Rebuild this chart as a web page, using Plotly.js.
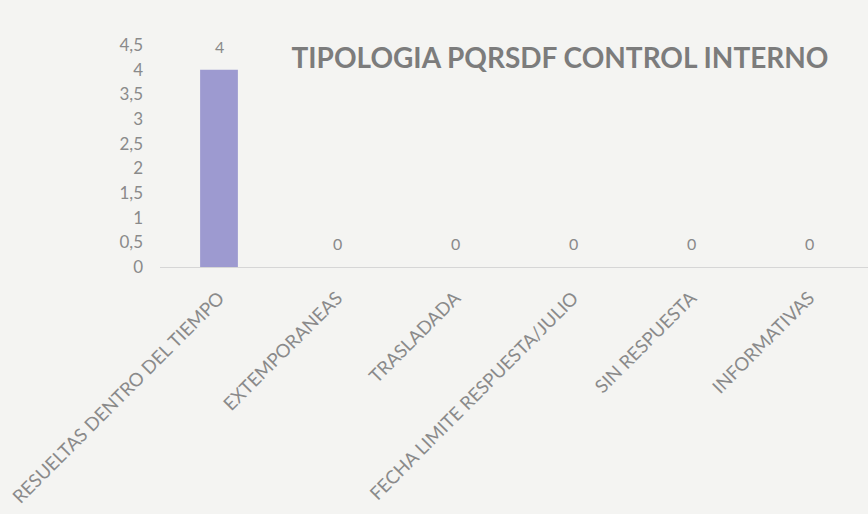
<!DOCTYPE html>
<html>
<head>
<meta charset="utf-8">
<script src="https://cdn.plot.ly/plotly-3.0.1.min.js"></script>
<style>html,body{margin:0;padding:0;background:#f4f4f2;}</style>
</head>
<body>
<div id="chart" style="width:868px;height:514px;"></div>
<script>
const categories = ["RESUELTAS DENTRO DEL TIEMPO", "EXTEMPORANEAS", "TRASLADADA", "FECHA LIMITE RESPUESTA/JULIO", "SIN RESPUESTA", "INFORMATIVAS"];
const values = [4, 0, 0, 0, 0, 0];
const yTicks = [0, 0.5, 1, 1.5, 2, 2.5, 3, 3.5, 4, 4.5];

const gray = '#8a8a8a';
const fontFam = 'Lato, "Open Sans", sans-serif';
const trace = {
  type: 'bar',
  x: categories,
  y: values,
  marker: {color: '#9d9ad0'},
  hoverinfo: 'none'
};
const labels = categories.map((c, i) => ({
  x: c, y: values[i], xref: 'x', yref: 'y',
  text: String(values[i]), showarrow: false,
  yanchor: 'bottom', yshift: 12,
  font: {family: fontFam, size: 16, color: gray}
}));
const layout = {
  width: 868, height: 514,
  paper_bgcolor: '#f4f4f2',
  plot_bgcolor: 'rgba(0,0,0,0)',
  separators: ',.',
  margin: {l: 160, r: 0, t: 45, b: 247},
  bargap: 0.68,
  showlegend: false,
  font: {family: fontFam, color: gray},
  annotations: labels,
  title: {
    text: '<b>TIPOLOGIA PQRSDF CONTROL INTERNO</b>',
    x: 560/868, xanchor: 'center',
    y: 1 - 58/514, yanchor: 'middle',
    font: {family: fontFam, size: 28, color: '#7c7c7c'}
  },
  xaxis: {
    type: 'category',
    tickangle: -45,
    showline: true, linecolor: '#d6d6d6', linewidth: 1,
    showgrid: false, zeroline: false,
    ticks: '',
    ticklabelstandoff: 12,
    tickfont: {size: 18.5, color: gray}
  },
  yaxis: {
    range: [0, 4.5],
    tickvals: yTicks,
    ticktext: yTicks.map(v => String(v).replace('.', ',')),
    showgrid: false, zeroline: false, showline: false,
    ticks: '',
    ticklabelstandoff: 16,
    tickfont: {size: 17, color: gray}
  }
};
Plotly.newPlot('chart', [trace], layout, {displayModeBar: false, staticPlot: true});
</script>
</body>
</html>
